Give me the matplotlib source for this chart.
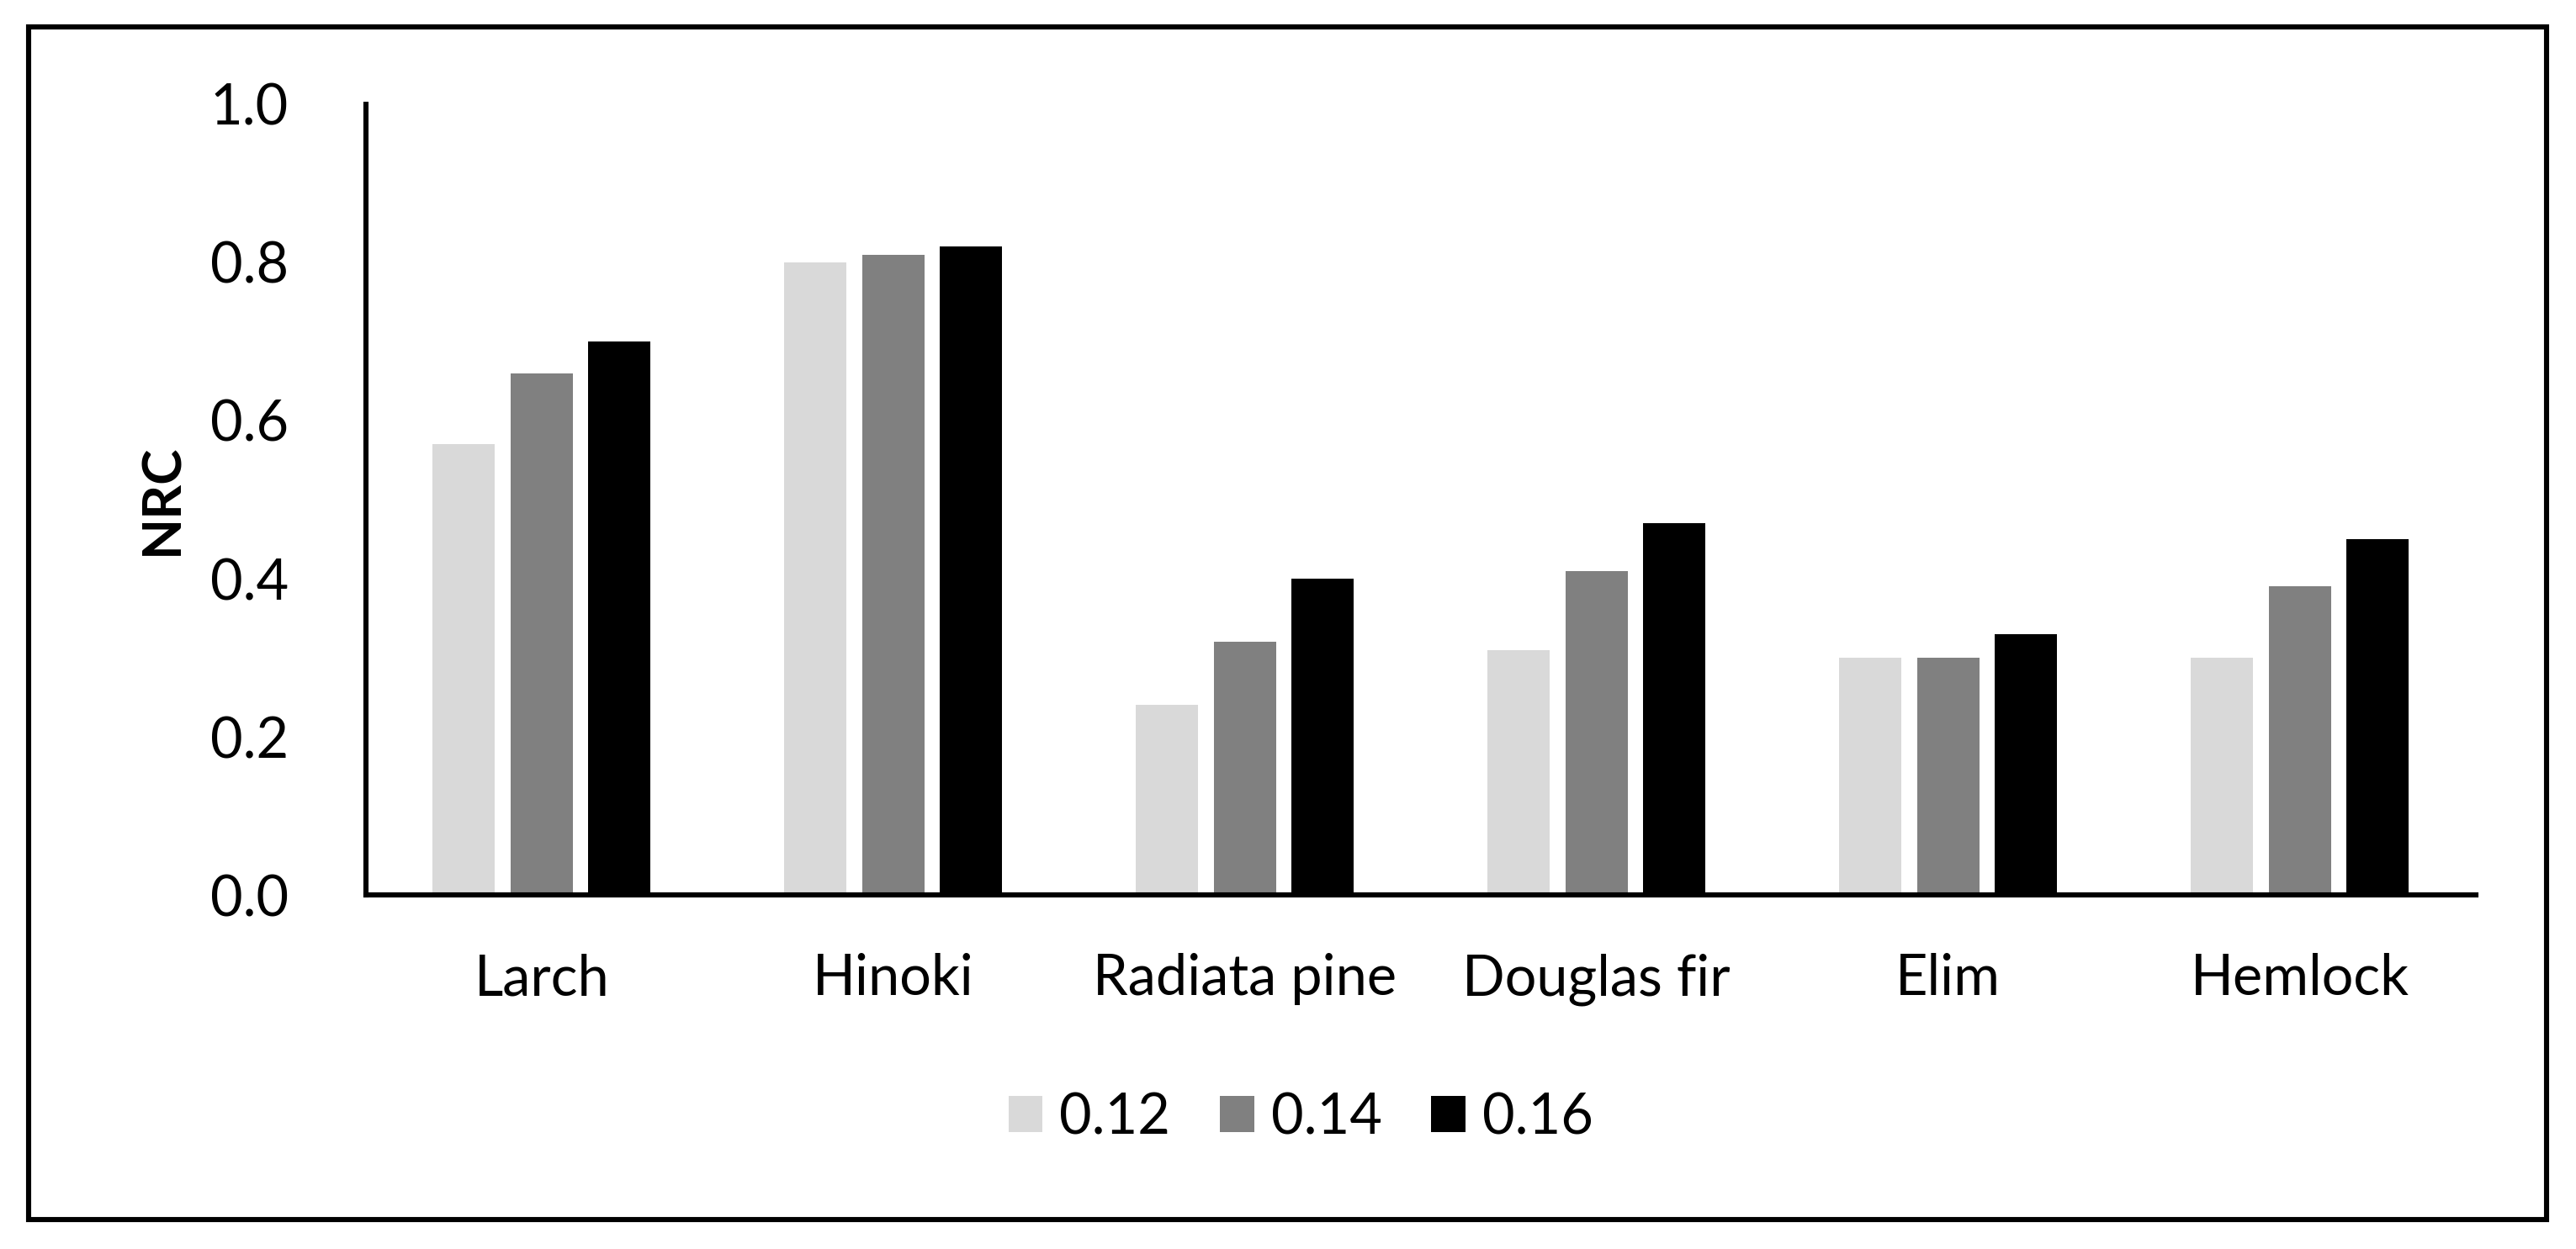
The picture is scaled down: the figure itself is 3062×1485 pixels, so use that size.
import matplotlib
matplotlib.use("Agg")
import matplotlib.pyplot as plt
import numpy as np
from matplotlib.patches import Rectangle

plt.rcParams['font.family'] = ['Lato', 'DejaVu Sans']

# data
species = ['Larch', 'Hinoki', 'Radiata pine', 'Douglas fir', 'Elim', 'Hemlock']
series_names = ['0.12', '0.14', '0.16']
nrc_012 = [0.57, 0.80, 0.24, 0.31, 0.30, 0.30]
nrc_014 = [0.66, 0.81, 0.32, 0.41, 0.30, 0.39]
nrc_016 = [0.70, 0.82, 0.40, 0.47, 0.33, 0.45]
colors = ['#D9D9D9', '#808080', '#000000']

fig = plt.figure(figsize=(15.31, 7.425), dpi=200)
ax = fig.add_axes([0.142, 0.2835, 0.819, 0.633])

x = np.arange(len(species))
w = 0.177
step = 0.221
for i, (vals, name) in enumerate(zip([nrc_012, nrc_014, nrc_016], series_names)):
    ax.bar(x + (i - 1) * step, vals, w, color=colors[i], label=name)

ax.set_xlim(-0.5, len(species) - 0.5)
ax.set_ylim(0, 1.0)
ax.set_yticks(np.arange(0, 1.01, 0.2))
ax.set_yticklabels(['%.1f' % v for v in np.arange(0, 1.01, 0.2)])
ax.set_xticks(x)
ax.set_xticklabels(species)
ax.tick_params(axis='y', length=0, pad=33, labelsize=24)
ax.tick_params(axis='x', length=0, pad=25, labelsize=24)

for s in ['top', 'right']:
    ax.spines[s].set_visible(False)
ax.spines['left'].set_linewidth(2.2)
ax.spines['bottom'].set_linewidth(2.2)

ax.set_ylabel('NRC', fontsize=23, fontweight='bold')
ax.yaxis.set_label_coords(-0.085, 0.5)

fig.legend(loc='center', bbox_to_anchor=(0.505, 0.105), ncol=3, frameon=False,
           fontsize=24, handlelength=0.61, handleheight=0.61,
           handletextpad=0.3, columnspacing=0.88)

# outer frame
fig.patches.append(Rectangle((34 / 3062, 1 - 1449.5 / 1485), (3027 - 34) / 3062,
                             (1449.5 - 32) / 1485, transform=fig.transFigure,
                             fill=False, edgecolor='black', linewidth=2.2))

fig.savefig('out.png', dpi=200)
